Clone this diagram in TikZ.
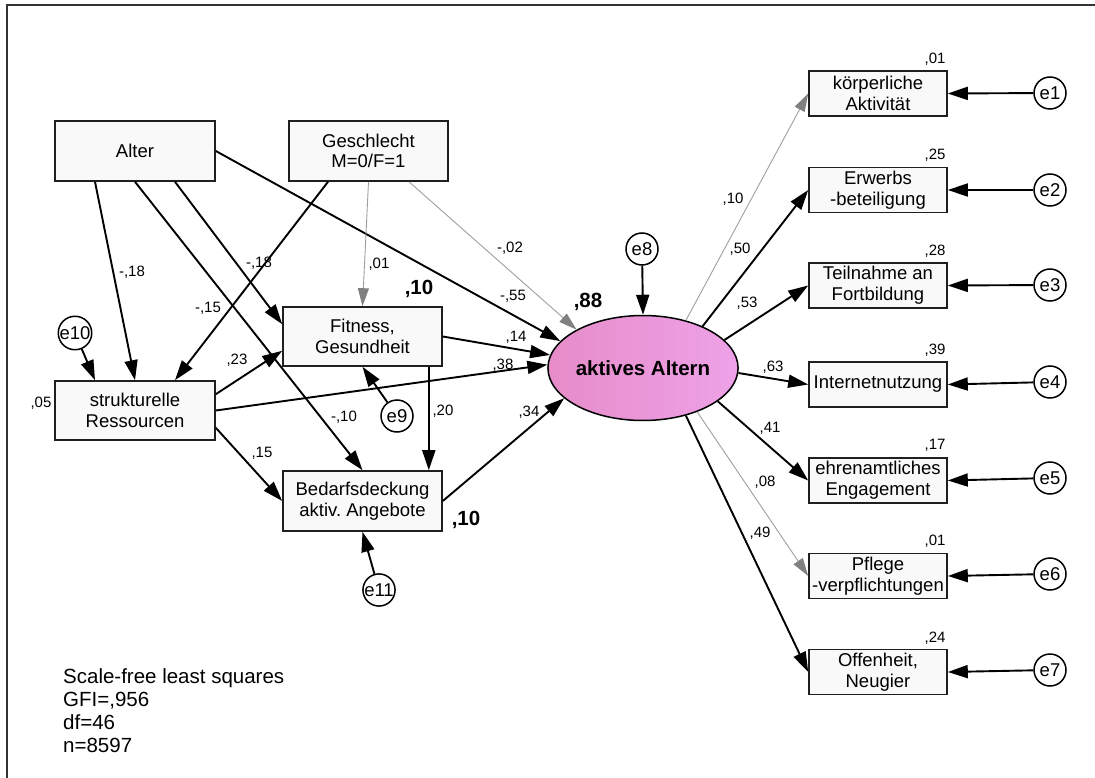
\documentclass[tikz,border=0pt]{standalone}
\usepackage{fontspec}
\setmainfont{Liberation Sans}
\usetikzlibrary{arrows.meta,shapes.geometric,calc}

\definecolor{boxline}{gray}{0.12}
\definecolor{boxfill}{gray}{0.975}
\definecolor{weakline}{gray}{0.62}
\definecolor{weakhead}{gray}{0.5}
\definecolor{latentL}{RGB}{230,140,200}
\definecolor{latentR}{RGB}{238,162,232}

\tikzset{
  obs/.style={rectangle, draw=boxline, line width=1.6pt, fill=boxfill, inner sep=0pt,
    align=center, font=\fontsize{18.5}{20.7}\selectfont},
  bigbox/.style={obs, minimum width=160pt, minimum height=60pt},
  smallbox/.style={obs, minimum width=138pt, minimum height=45pt},
  latent/.style={ellipse, draw=black, line width=1.5pt, inner sep=0pt,
    minimum width=150pt, minimum height=105pt, left color=latentL, right color=latentR,
    font=\bfseries\fontsize{20.5}{22}\selectfont},
  err/.style={circle, draw=black, line width=1.5pt, fill=white, minimum size=32pt,
    inner sep=0pt, font=\fontsize{18.5}{20}\selectfont},
  path/.style={draw=black, line width=1.9pt, -{Triangle[length=20pt,width=13pt]}},
  weak/.style={draw=weakline, line width=0.9pt,
    -{Triangle[length=18pt,width=11pt,color=weakhead,fill=weakhead]}},
  coef/.style={inner sep=0pt, font=\fontsize{15}{16}\selectfont},
  rsq/.style={inner sep=0pt, font=\bfseries\fontsize{20.5}{22}\selectfont},
}

\begin{document}
\begin{tikzpicture}[x=1pt,y=-1pt]
\useasboundingbox (0,0) rectangle (1095,778);
\draw[line width=1.6pt, draw=black!80] (7,778) -- (7,5) -- (1095,5);

% exogenous and mediating variables
\node[bigbox] (alter) at (135,151) {Alter};
\node[bigbox, minimum width=159pt] (sex) at (368.5,151) {Geschlecht\\M=0/F=1};
\node[bigbox, minimum height=59pt] (sr) at (135,410.5) {strukturelle\\Ressourcen};
\node[bigbox, minimum width=159pt, minimum height=59pt] (fit) at (362.5,336.5) {Fitness,\\Gesundheit};
\node[bigbox, minimum width=159pt] (bed) at (362.5,501) {Bedarfsdeckung\\aktiv.\ Angebote};

% latent construct
\node[latent] (aa) at (643,368) {aktives Altern};

% indicators
\node[smallbox] (k1) at (878,93.5) {körperliche\\Aktivität};
\node[smallbox] (k2) at (878,190) {Erwerbs\\-beteiligung};
\node[smallbox] (k3) at (878,285.5) {Teilnahme an\\Fortbildung};
\node[smallbox] (k4) at (878,384.5) {Internetnutzung};
\node[smallbox] (k5) at (878,480.5) {ehrenamtliches\\Engagement};
\node[smallbox] (k6) at (878,576) {Pflege\\-verpflichtungen};
\node[smallbox] (k7) at (878,672) {Offenheit,\\Neugier};

% error terms
\node[err] (e1) at (1050,93) {e1};
\node[err] (e2) at (1050,190) {e2};
\node[err] (e3) at (1050,285) {e3};
\node[err] (e4) at (1050,382) {e4};
\node[err] (e5) at (1050,478) {e5};
\node[err] (e6) at (1050,574) {e6};
\node[err] (e7) at (1050,670) {e7};
\node[err] (e8) at (642,249) {e8};
\node[err] (e9) at (397,416) {e9};
\node[err] (e10) at (75,333) {e10};
\node[err] (e11) at (379,590) {e11};

% structural paths
\draw[path] ($(alter.south)+(-40,0)$) -- (sr.north);
\draw[path] (e10) -- ($(sr.north)+(-40,0)$);
\draw[path] ($(sex.south)+(-40.5,0)$) -- ($(sr.north)+(40,0)$);
\draw[path] ($(alter.south)+(40,0)$) -- ($(fit.north west)+(0,18)$);
\draw[path] (alter.south) -- (bed.north);
\draw[path] (alter.east) -- (aa.162);
\draw[weak] (sex.south) -- (fit.north);
\draw[weak] ($(sex.south)+(40.5,0)$) -- (aa.150);
\draw[path] ($(sr.north east)+(0,14)$) -- ($(fit.south west)+(0,-16)$);
\draw[path] (sr.east) -- (aa.178);
\draw[path] ($(sr.south east)+(0,-13)$) -- (bed.west);
\draw[path] ($(fit.south east)+(-14,0)$) -- ($(bed.north east)+(-14,0)$);
\draw[path] (fit.east) -- (aa.172);
\draw[path] (bed.east) -- (aa.201);
\draw[path] (e9) -- (fit.south);
\draw[path] (e11) -- (bed.south);
\draw[path] (e8) -- (aa.north);

% measurement paths
\draw[weak] (aa.48) -- (k1.west);
\draw[path] (aa.35) -- (k2.west);
\draw[path] (aa.19) -- (k3.west);
\draw[path] (aa.-3) -- (k4.west);
\draw[path] (aa.-24) -- (k5.west);
\draw[weak] (aa.-39) -- (k6.west);
\draw[path] (aa.-48) -- (k7.west);
\foreach \i in {1,...,7} \draw[path] (e\i) -- (k\i.east);

% path coefficients
\node[coef] (c1) at (132,272) {-,18};
\node[coef] (c2) at (259,263) {-,18};
\node[coef] (c3) at (379,264) {,01};
\node[coef] (c4) at (510,248) {-,02};
\node[coef] (c5) at (513,296) {-,55};
\node[coef] (c6) at (516,337) {,14};
\node[coef] (c7) at (503,365) {,38};
\node[coef] (c8) at (529,412) {,34};
\node[coef] (c9) at (443,411) {,20};
\node[coef] (c10) at (208,308) {-,15};
\node[coef] (c11) at (237,360) {,23};
\node[coef] (c12) at (344,417) {-,10};
\node[coef] (c13) at (262,453) {,15};
\node[coef] (c14) at (41,403) {,05};
\node[coef] (l1) at (733,199) {,10};
\node[coef] (l2) at (740,249) {,50};
\node[coef] (l3) at (747,303) {,53};
\node[coef] (l4) at (773,367) {,63};
\node[coef] (l5) at (770,428) {,41};
\node[coef] (l6) at (765,482) {,08};
\node[coef] (l7) at (760,533) {,49};

% explained variance
\node[rsq] (r1) at (419,289) {,10};
\node[rsq] (r2) at (588,302) {,88};
\node[rsq] (r3) at (466,520) {,10};
\node[coef] (q1) at (935,59) {,01};
\node[coef] (q2) at (935,155) {,25};
\node[coef] (q3) at (935,251) {,28};
\node[coef] (q4) at (935,350) {,39};
\node[coef] (q5) at (935,445) {,17};
\node[coef] (q6) at (935,541) {,01};
\node[coef] (q7) at (935,638) {,24};

% fit statistics
\node[anchor=north west, align=left, inner sep=0pt, font=\fontsize{20.5}{23.3}\selectfont]
  (stats) at (63,668) {Scale-free least squares\\GFI=,956\\df=46\\n=8597};
\end{tikzpicture}
\end{document}
